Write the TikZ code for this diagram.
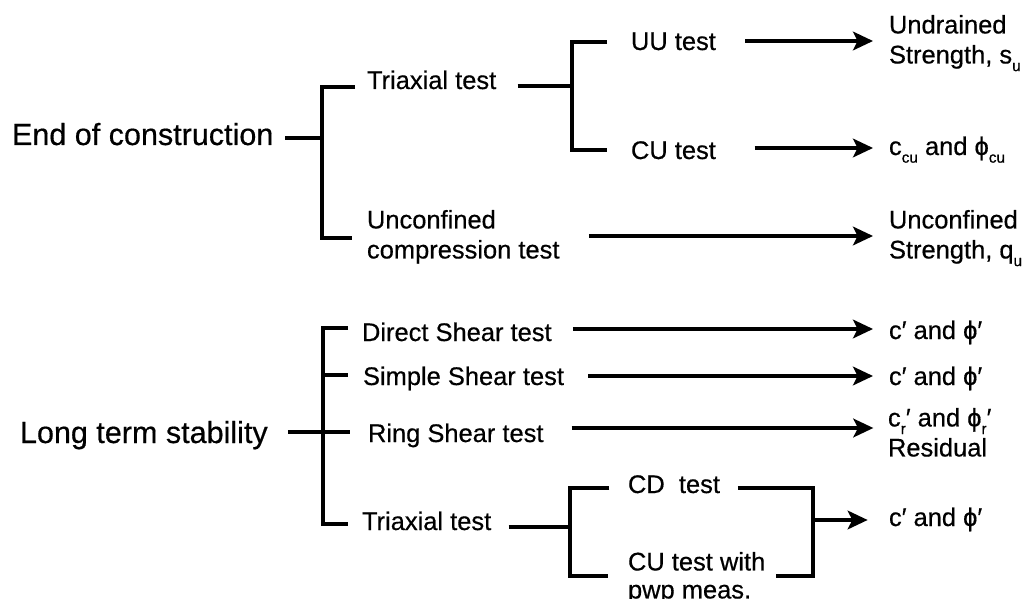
\documentclass[tikz,border=0pt]{standalone}
\usepackage{fontspec}
\setmainfont{Liberation Sans}[FakeBold=0.5]
\usetikzlibrary{arrows.meta}
\newcommand\lsub[1]{\raisebox{-0.3em}{\fontsize{11.5}{11.5}\selectfont #1}}
\newcommand\ph{ϕ}
\begin{document}
\begin{tikzpicture}[x=0.75pt,y=-0.75pt,
  every node/.style={inner sep=0pt,outer sep=0pt},
  lbl/.style={font=\fontsize{19.1}{22.5}\selectfont,align=left},
  big/.style={font=\fontsize{22.9}{27}\selectfont},
  ln/.style={line width=2.6pt,line join=miter},
  arr/.style={ln,-{Stealth[length=15pt,width=14pt,inset=3.5pt]}}]
\useasboundingbox (0,0) rectangle (1032,599);
% ---------- End of construction ----------
\node[big,anchor=base west] (eoc) at (12,145) {End of construction};
\node[lbl,anchor=base west] (tri1) at (367,89) {Triaxial test};
\node[lbl,anchor=north west] (unc) at (367,210) {Unconfined\\compression test};
\node[lbl,anchor=base west] (uu) at (631,50) {UU test};
\node[lbl,anchor=base west] (cu) at (631,159) {CU test};
\node[lbl,anchor=north west] (und) at (889,15) {Undrained\\Strength, s\lsub{u}};
\node[lbl,anchor=base west] (ccu) at (889,155) {c\lsub{cu} and \ph\lsub{cu}};
\node[lbl,anchor=north west] (ucs) at (889,210) {Unconfined\\Strength, q\lsub{u}};
\coordinate (j1) at (322,138);
\coordinate (t1) at (322,87);
\coordinate (b1) at (322,238);
\coordinate (j2) at (572,86);
\coordinate (t2) at (572,42);
\coordinate (b2) at (572,150);
\coordinate (ya) at (0,41);
\coordinate (yb) at (0,148);
\coordinate (yc) at (0,236);
\draw[ln] ([xshift=9pt]eoc.east |- j1) -- (j1);
\draw[ln] ([xshift=-9pt]tri1.west |- t1) -- (t1) -- (b1) -- ([xshift=-11pt]unc.west |- b1);
\draw[ln] ([xshift=16pt]tri1.east |- j2) -- (j2);
\draw[ln] ([xshift=-18pt]uu.west |- t2) -- (t2) -- (b2) -- ([xshift=-18pt]cu.west |- b2);
\draw[arr] ([xshift=22pt]uu.east |- ya) -- ([xshift=-12pt]und.west |- ya);
\draw[arr] ([xshift=29pt]cu.east |- yb) -- ([xshift=-12pt]ccu.west |- yb);
\draw[arr] ([xshift=22pt]unc.east |- yc) -- ([xshift=-12pt]ucs.west |- yc);
% ---------- Long term stability ----------
\node[big,anchor=base west] (lts) at (20,443) {Long term stability};
\node[lbl,anchor=base west] (ds) at (362,341) {Direct Shear test};
\node[lbl,anchor=base west] (ss) at (363,385) {Simple Shear test};
\node[lbl,anchor=base west] (rs) at (368,442) {Ring Shear test};
\node[lbl,anchor=base west] (tri2) at (362,530) {Triaxial test};
\node[lbl,anchor=base west] (o1) at (889,339) {c′ and \ph′};
\node[lbl,anchor=base west] (o2) at (889,385) {c′ and \ph′};
\node[lbl,anchor=north west] (o3) at (888,408) {c\lsub{r}′ and \ph\lsub{r}′\\Residual};
\node[lbl,anchor=base west] (cd) at (628,493) {CD\ \ test};
\node[lbl,anchor=north west,font=\fontsize{19.1}{21}\selectfont] (cuw) at (628,552) {CU test with\\pwp meas.};
\node[lbl,anchor=base west] (o4) at (889,526) {c′ and \ph′};
\coordinate (j3) at (323,432);
\coordinate (t3) at (323,328);
\coordinate (m3) at (323,375);
\coordinate (b3) at (323,524);
\coordinate (j4) at (570,527);
\coordinate (t4) at (570,488);
\coordinate (b4) at (570,576);
\coordinate (t5) at (813,488);
\coordinate (b5) at (813,576);
\coordinate (j5) at (813,520);
\coordinate (yd) at (0,329);
\coordinate (ye) at (0,376);
\coordinate (yf) at (0,428);
\draw[ln] ([xshift=15pt]lts.east |- j3) -- ([xshift=-13.5pt]rs.west |- j3);
\draw[ln] ([xshift=-10.5pt]ds.west |- t3) -- (t3) -- (b3) -- ([xshift=-10.5pt]tri2.west |- b3);
\draw[ln] (m3) -- ([xshift=-11pt]ss.west |- m3);
\draw[arr] ([xshift=16pt]ds.east |- yd) -- ([xshift=-12pt]o1.west |- yd);
\draw[arr] ([xshift=18pt]ss.east |- ye) -- ([xshift=-12pt]o2.west |- ye);
\draw[arr] ([xshift=21pt]rs.east |- yf) -- ([xshift=-11pt]o3.west |- yf);
\draw[ln] ([xshift=13pt]tri2.east |- j4) -- (j4);
\draw[ln] ([xshift=-14pt]cd.west |- t4) -- (t4) -- (b4) -- ([xshift=-15pt]cuw.west |- b4);
\draw[ln] ([xshift=13.5pt]cd.east |- t5) -- (t5) -- (b5) -- ([xshift=8pt]cuw.east |- b5);
\draw[arr] (j5) -- ([xshift=-16pt]o4.west |- j5);
\end{tikzpicture}
\end{document}
